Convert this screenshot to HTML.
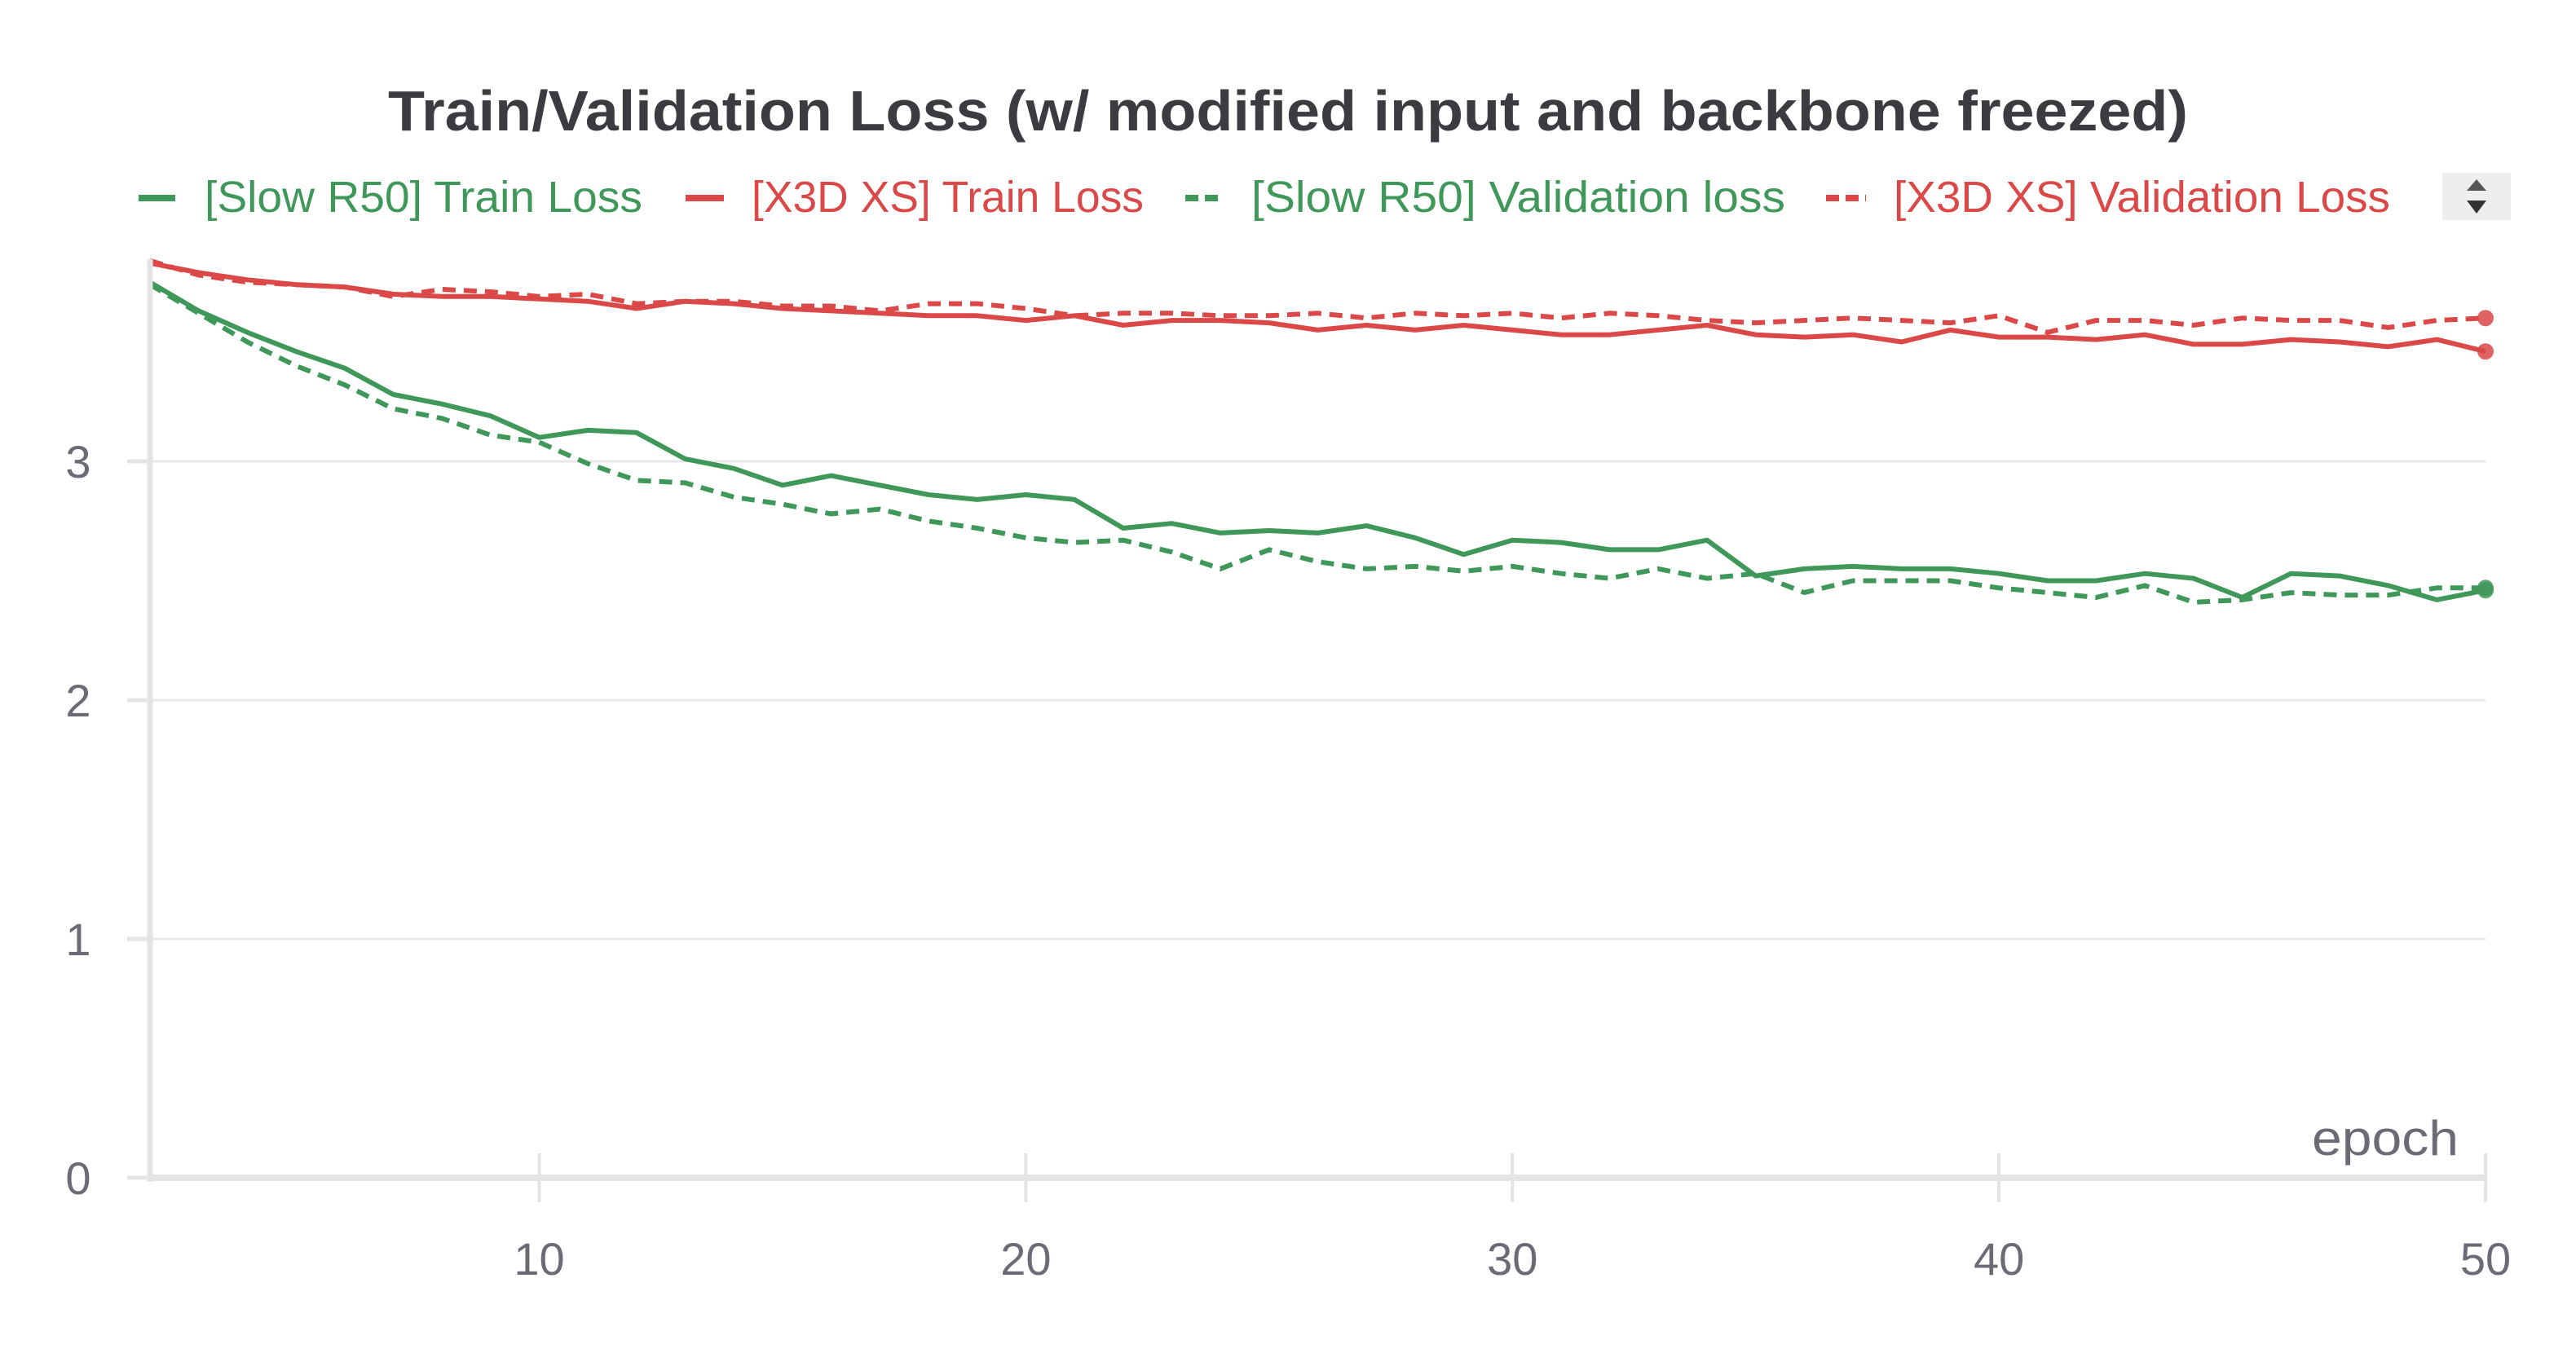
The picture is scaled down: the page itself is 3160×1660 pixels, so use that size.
<!DOCTYPE html>
<html><head><meta charset="utf-8"><style>
html,body{margin:0;padding:0;background:#fff;}
svg{display:block;font-family:"Liberation Sans",sans-serif;}
</style></head><body>
<svg id="chart" width="3160" height="1660" viewBox="0 0 3160 1660" xmlns="http://www.w3.org/2000/svg">
<text x="1580" y="160" text-anchor="middle" font-size="70" font-weight="bold" fill="#3b3b40" textLength="2208" lengthAdjust="spacingAndGlyphs">Train/Validation Loss (w/ modified input and backbone freezed)</text>
<g id="legend"></g>
<g>
<rect x="2996" y="212" width="84" height="58" fill="#eeeef0"/>
<polygon points="3026,234 3050,234 3038,220" fill="#555"/>
<polygon points="3026,246 3050,246 3038,262" fill="#333"/>
</g>
<g id="grid"></g>
<g id="series"></g>
<g id="axes"></g>
</svg>
<script>
const epochs=[];for(let e=2;e<=50;e++)epochs.push(e);
const slowTrain=[3.75,3.63,3.54,3.46,3.39,3.28,3.24,3.19,3.10,3.13,3.12,3.01,2.97,2.90,2.94,2.90,2.86,2.84,2.86,2.84,2.72,2.74,2.70,2.71,2.70,2.73,2.68,2.61,2.67,2.66,2.63,2.63,2.67,2.52,2.55,2.56,2.55,2.55,2.53,2.50,2.50,2.53,2.51,2.43,2.53,2.52,2.48,2.42,2.46];
const x3dTrain=[3.83,3.79,3.76,3.74,3.73,3.70,3.69,3.69,3.68,3.67,3.64,3.67,3.66,3.64,3.63,3.62,3.61,3.61,3.59,3.61,3.57,3.59,3.59,3.58,3.55,3.57,3.55,3.57,3.55,3.53,3.53,3.55,3.57,3.53,3.52,3.53,3.50,3.55,3.52,3.52,3.51,3.53,3.49,3.49,3.51,3.50,3.48,3.51,3.46];
const slowVal=[3.74,3.62,3.50,3.40,3.32,3.22,3.18,3.11,3.08,2.99,2.92,2.91,2.85,2.82,2.78,2.80,2.75,2.72,2.68,2.66,2.67,2.62,2.55,2.63,2.58,2.55,2.56,2.54,2.56,2.53,2.51,2.55,2.51,2.53,2.45,2.50,2.50,2.50,2.47,2.45,2.43,2.48,2.41,2.42,2.45,2.44,2.44,2.47,2.47];
const x3dVal=[3.84,3.78,3.75,3.74,3.73,3.69,3.72,3.71,3.69,3.70,3.66,3.67,3.67,3.65,3.65,3.63,3.66,3.66,3.64,3.61,3.62,3.62,3.61,3.61,3.62,3.60,3.62,3.61,3.62,3.60,3.62,3.61,3.59,3.58,3.59,3.60,3.59,3.58,3.61,3.54,3.59,3.59,3.57,3.60,3.59,3.59,3.56,3.59,3.60];
const yTicks=[0,1,2,3];
const xTicks=[10,20,30,40,50];
const legendLabels=["[Slow R50] Train Loss","[X3D XS] Train Loss","[Slow R50] Validation loss","[X3D XS] Validation Loss"];

const NS="http://www.w3.org/2000/svg";
const X0=184,X1=3049,Y0=1445,PER=293;
const xs=e=>X0+(e-2)*(X1-X0)/48;
const ys=v=>Y0-v*PER;
const GREEN="#3f985a",RED="#db4848";
function mk(tag,attrs,parent){const el=document.createElementNS(NS,tag);for(const k in attrs)el.setAttribute(k,attrs[k]);parent.appendChild(el);return el;}
const grid=document.getElementById('grid'),axes=document.getElementById('axes'),ser=document.getElementById('series'),leg=document.getElementById('legend');

yTicks.forEach(t=>{
 if(t>0){const g=mk('line',{x1:X0,x2:X1,y1:ys(t),y2:ys(t),stroke:'#e8e8ea','stroke-width':3},grid);
 
 }
 const tk=mk('line',{x1:156,x2:X0,y1:ys(t),y2:ys(t),stroke:'#e4e4e7','stroke-width':5},axes);
 
 
 const tx=mk('text',{x:96,y:ys(t)+20,'text-anchor':'middle','font-size':56,fill:'#6b6b76'},axes);
 tx.textContent=t;
 
 
});
xTicks.forEach(t=>{
 const tk=mk('line',{x1:xs(t),x2:xs(t),y1:1415,y2:1475,stroke:'#e4e4e7','stroke-width':4},axes);
 
 
 const tx=mk('text',{x:xs(t),y:1564,'text-anchor':'middle','font-size':56,fill:'#6b6b76'},axes);
 tx.textContent=t;
 
 
});
const ya=mk('line',{x1:X0,x2:X0,y1:318,y2:Y0+5,stroke:'#e4e4e7','stroke-width':7},axes);


const xa=mk('line',{x1:X0,x2:X1,y1:Y0,y2:Y0,stroke:'#e4e4e7','stroke-width':8},axes);


const xt=mk('text',{x:2836,y:1417,'font-size':60,fill:'#6b6b76',textLength:180,lengthAdjust:'spacingAndGlyphs'},axes);
xt.textContent='epoch';



const series=[[x3dVal,RED,true,'x3d-validation-line'],[x3dTrain,RED,false,'x3d-train-line'],[slowVal,GREEN,true,'slow-validation-line'],[slowTrain,GREEN,false,'slow-train-line']];
series.forEach(([vals,col,dash,name])=>{
 const d=vals.map((v,i)=>(i?'L':'M')+xs(epochs[i]).toFixed(1)+' '+ys(v).toFixed(1)).join(' ');
 const p=mk('path',{d:d,fill:'none',stroke:col,'stroke-width':6,'stroke-linejoin':'round'},ser);
 if(dash)p.setAttribute('stroke-dasharray','16 10');
 
 
 const n=vals.length-1;
 const c=mk('circle',{cx:xs(epochs[n]),cy:ys(vals[n]),r:10,fill:col,opacity:0.85},ser);
 
 
});

const legX=[[170,215,251,537],[841,888,922,481],[1454,1501,1535,655],[2240,2289,2323,609]];
const legCols=[GREEN,RED,GREEN,RED];
legendLabels.forEach((lab,i)=>{
 const [lx1,lx2,tx0,tw]=legX[i];
 const ln=mk('line',{x1:lx1,x2:lx2,y1:243,y2:243,stroke:legCols[i],'stroke-width':8},leg);
 if(i>=2)ln.setAttribute('stroke-dasharray','16 8');
 
 
 const t=mk('text',{x:tx0,y:260,'font-size':54,fill:legCols[i],textLength:tw,lengthAdjust:'spacingAndGlyphs'},leg);
 t.textContent=lab;
 
 
});
</script>
</body></html>
